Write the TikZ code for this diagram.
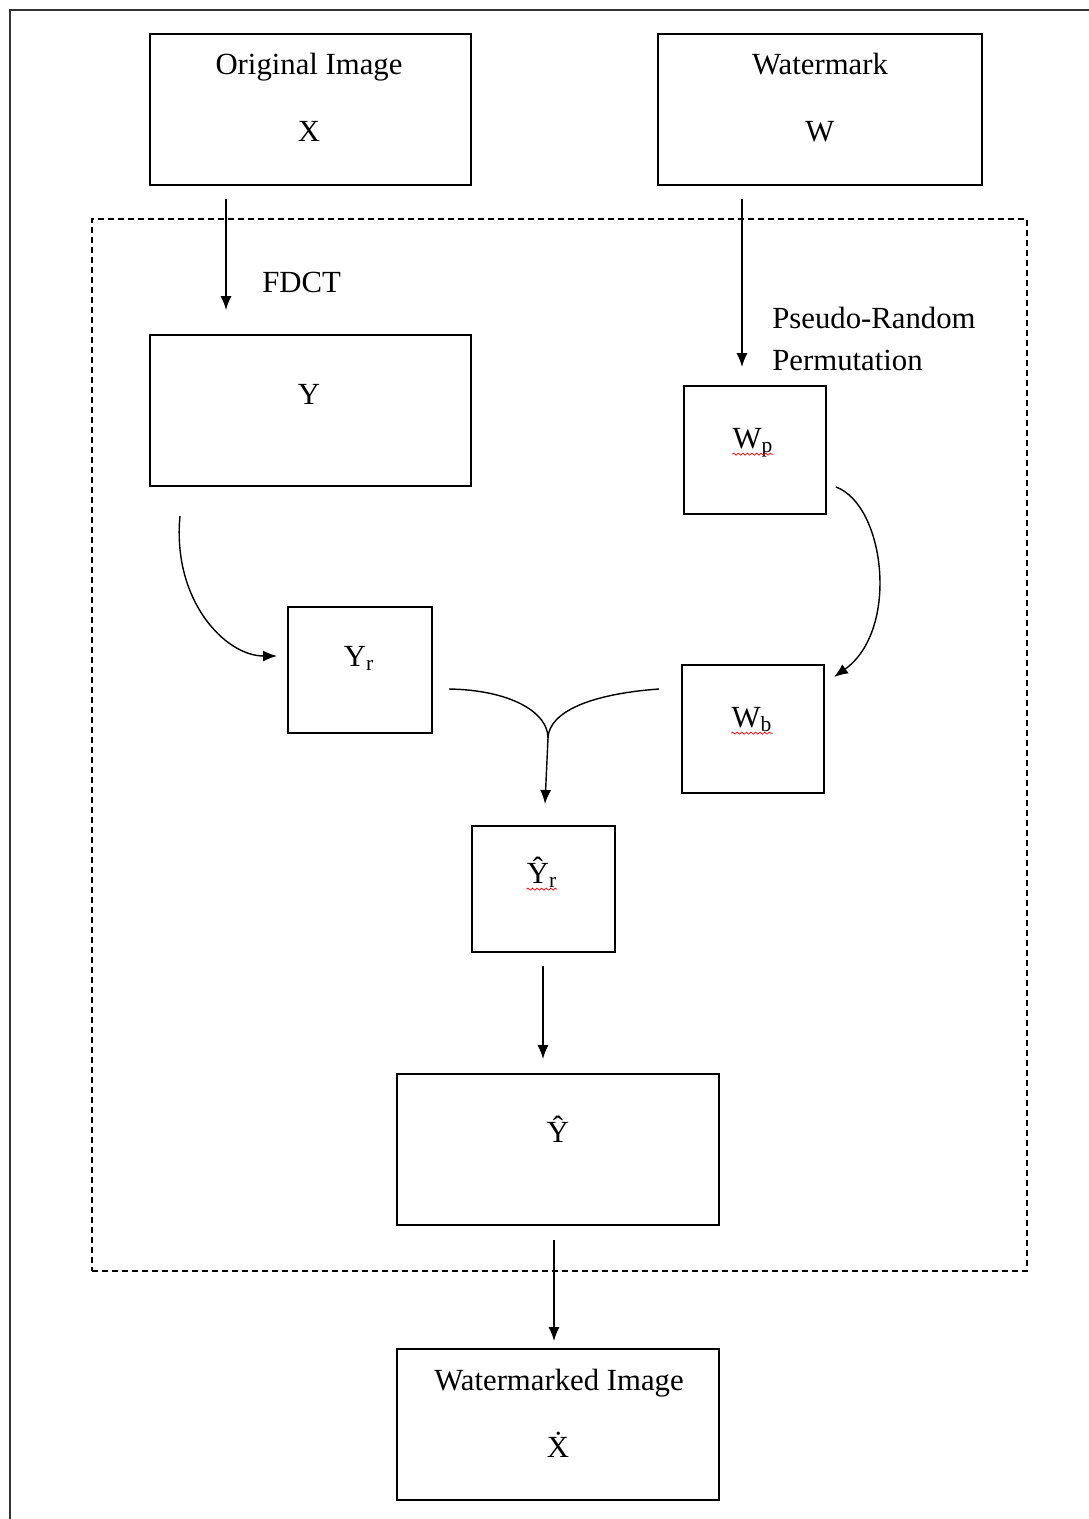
\documentclass[tikz,border=0pt]{standalone}
\usepackage{fontspec}
\setmainfont{Liberation Serif}
\usetikzlibrary{arrows.meta,decorations.pathmorphing}
\begin{document}
\begin{tikzpicture}[x=0.02cm,y=-0.02cm,
  every node/.style={font=\fontsize{17.5}{21}\selectfont},
  box/.style={draw,line width=1.1pt,rectangle,inner sep=0pt},
  lbl/.style={anchor=base,inner sep=0pt},
  lbll/.style={anchor=base west,inner sep=0pt},
  flow/.style={line width=0.8pt,-{Latex[length=0.28cm,width=0.22cm]}},
  link/.style={line width=0.8pt},
  spell/.style={red,line width=0.4pt,decorate,decoration={snake,amplitude=0.6pt,segment length=2.6pt}}]
\useasboundingbox (0,0) rectangle (1089,1519);

% open outer frame
\draw[line width=1.1pt,black!80] (10,1519) -- (10,10) -- (1089,10);

% dashed processing region
\node[draw,line width=0.8pt,dash pattern=on 0.12cm off 0.08cm,rectangle,inner sep=0pt,
      minimum width=18.7cm,minimum height=21.04cm] (region) at (559.5,745) {};

% boxes
\node[box,minimum width=6.42cm,minimum height=3.02cm] (orig) at (310.5,109.5) {};
\node[box,minimum width=6.48cm,minimum height=3.02cm] (wm) at (820,109.5) {};
\node[box,minimum width=6.42cm,minimum height=3.02cm] (ybox) at (310.5,410.5) {};
\node[box,minimum width=2.84cm,minimum height=2.56cm] (wp) at (755,450) {};
\node[box,minimum width=2.88cm,minimum height=2.52cm] (yr) at (360,670) {};
\node[box,minimum width=2.84cm,minimum height=2.56cm] (wb) at (753,729) {};
\node[box,minimum width=2.86cm,minimum height=2.52cm] (yhr) at (543.5,889) {};
\node[box,minimum width=6.44cm,minimum height=3.02cm] (yhat) at (558,1149.5) {};
\node[box,minimum width=6.44cm,minimum height=3.02cm] (out) at (558,1424.5) {};

% box texts
\node[lbl] (origt) at (309,74) {Original Image};
\node[lbl] (origx) at (309,141) {X};
\node[lbl] (wmt) at (820,74) {Watermark};
\node[lbl] (wmw) at (820,141) {W};
\node[lbl] (yt) at (309,404) {Y};
\node[lbl] (wpt) at (753,448) {W\textsubscript{p}};
\node[lbl] (yrt) at (359,666) {Y\textsubscript{r}};
\node[lbl] (wbt) at (752,727) {W\textsubscript{b}};
\node[lbl] (yhrt) at (542,883) {\^{Y}\textsubscript{r}};
\node[lbl] (yhatt) at (558,1142) {\^{Y}};
\node[lbl] (outt) at (559,1390) {Watermarked Image};
\node[lbl] (outx) at (558,1457) {\.{X}};

% spell-check underlines
\draw[spell] ([yshift=-3.5pt]wpt.base west) -- ([yshift=-3.5pt]wpt.base east);
\draw[spell] ([yshift=-3.5pt]wbt.base west) -- ([yshift=-3.5pt]wbt.base east);
\draw[spell] ([yshift=-3.5pt]yhrt.base west) -- ([yshift=-3.5pt]yhrt.base east);

% side labels
\node[lbll] (fdct) at (262,292) {FDCT};
\node[lbll] (prp1) at (772,328) {Pseudo-Random};
\node[lbll] (prp2) at (772,370) {Permutation};

% connector end points
\coordinate (a1) at (226,199);
\coordinate (a2) at (226,310);
\coordinate (b1) at (742,199);
\coordinate (b2) at (742,367);
\coordinate (c1) at (180,516);
\coordinate (c2) at (277,656);
\coordinate (d1) at (836,487);
\coordinate (d2) at (834,677);
\coordinate (e1) at (449,689);
\coordinate (e2) at (659,689);
\coordinate (ej) at (548,738);
\coordinate (e3) at (545,804);
\coordinate (f1) at (543,966);
\coordinate (f2) at (543,1059);
\coordinate (g1) at (554,1240);
\coordinate (g2) at (554,1341);

% connectors
\draw[flow] (a1) -- (a2);
\draw[flow] (b1) -- (b2);
\draw[flow] (c1) .. controls (172,600) and (225,656) .. (c2);
\draw[flow] (d1) .. controls (885,505) and (900,630) .. (d2);
\draw[link] (e1) .. controls (510,690) and (548,712) .. (ej);
\draw[link] (e2) .. controls (590,694) and (549,712) .. (ej);
\draw[flow] (ej) -- (e3);
\draw[flow] (f1) -- (f2);
\draw[flow] (g1) -- (g2);
\end{tikzpicture}
\end{document}
